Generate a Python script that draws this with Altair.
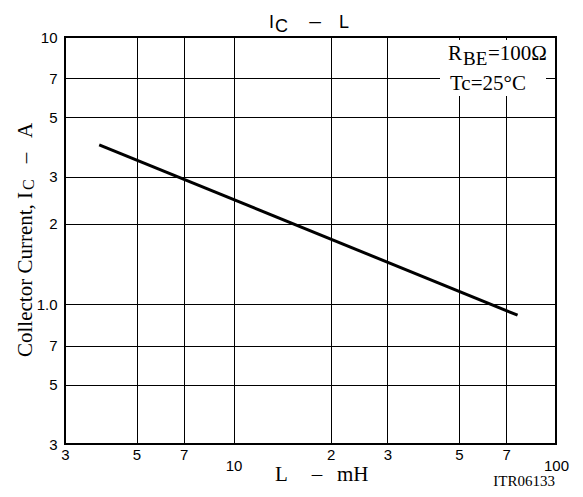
import altair as alt
import pandas as pd

# ---- data ----
L_mH = [3.83, 76.0]
Ic_A = [3.95, 0.91]
x_ticks = [3, 5, 7, 10, 20, 30, 50, 70, 100]
y_ticks = [0.3, 0.5, 0.7, 1, 2, 3, 5, 7, 10]

title_parts = ["I", "C", "\u2013", "L"]
ytitle_parts = ["Collector Current, I", "C", "\u2013", "A"]
xtitle_parts = ["L", "\u2013", "mH"]
note_parts = ["R", "BE", "=100\u03a9", "Tc=25\u00b0C"]
code_label = "ITR06133"

SANS = "Liberation Sans"
SERIF = "Liberation Serif"
W, H = 491, 407

df = pd.DataFrame({"L": L_mH, "Ic": Ic_A})

x_label_expr = (
    "datum.value < 10 ? toString(datum.value) : "
    "(datum.value == 10 || datum.value == 100) ? ['', toString(datum.value)] : "
    "toString(round(datum.value / 10))"
)
y_label_expr = (
    "datum.value == 1 ? '1.0' : "
    "toString(round(datum.value < 1 ? datum.value * 10 : datum.value))"
)

line = alt.Chart(df).mark_line(color="black", strokeWidth=3).encode(
    x=alt.X(
        "L:Q",
        scale=alt.Scale(type="log", domain=[3, 100], nice=False),
        axis=alt.Axis(
            values=x_ticks, labelExpr=x_label_expr, grid=True, gridColor="black",
            gridWidth=1, ticks=False, domain=False, title=None,
            labelFont=SANS, labelFontSize=15, labelColor="black",
            labelPadding=3, labelLineHeight=11, labelFlush=False, labelOverlap=False,
        ),
    ),
    y=alt.Y(
        "Ic:Q",
        scale=alt.Scale(type="log", domain=[0.3, 10], nice=False),
        axis=alt.Axis(
            values=y_ticks, labelExpr=y_label_expr, grid=True, gridColor="black",
            gridWidth=1, ticks=False, domain=False, title=None,
            labelFont=SANS, labelFontSize=15, labelColor="black",
            labelPadding=8, labelFlush=False, labelOverlap=False,
        ),
    ),
)

one = alt.Data(values=[{}])


def txt(text, x, y, size, font, align="left", angle=0):
    kw = dict(text=text, font=font, fontSize=size, color="black", align=align,
              baseline="alphabetic")
    if angle:
        kw["angle"] = angle
    return alt.Chart(one).mark_text(**kw).encode(x=alt.value(x), y=alt.value(y))


white_box = alt.Chart(one).mark_rect(color="white").encode(
    x=alt.value(375), x2=alt.value(481), y=alt.value(3), y2=alt.value(59)
)

layers = [
    line,
    white_box,
    # title
    txt(title_parts[0], 204, -9, 18, SANS),
    txt(title_parts[1], 210, -5, 18, SANS),
    txt(title_parts[2], 250, -9, 21, SANS, align="center"),
    txt(title_parts[3], 274, -9, 18, SANS),
    # y title (rotated)
    txt(ytitle_parts[0], -33, 320, 21, SERIF, angle=270),
    txt(ytitle_parts[1], -31, 153, 16, SERIF, angle=270),
    txt(ytitle_parts[2], -33, 121, 21, SERIF, align="center", angle=270),
    txt(ytitle_parts[3], -33, 101, 21, SERIF, angle=270),
    # x title
    txt(xtitle_parts[0], 210, 444, 21, SERIF),
    txt(xtitle_parts[1], 252, 444, 21, SERIF, align="center"),
    txt(xtitle_parts[2], 272, 444, 21, SERIF),
    # notes
    txt(note_parts[0], 383, 23, 21, SERIF),
    txt(note_parts[1], 398, 28, 19, SERIF),
    txt(note_parts[2], 423, 23, 21, SERIF),
    txt(note_parts[3], 385, 53, 21, SERIF),
    # code
    txt(code_label, 490, 449, 15, SERIF, align="right"),
]

chart = alt.layer(*layers).properties(
    width=W, height=H,
    autosize=alt.AutoSizeParams(type="none"),
    padding={"left": 57, "top": 29, "right": 19, "bottom": 45},
    background="white",
).configure_view(stroke="black", strokeWidth=2)

chart.save("out.html", embed_options={"renderer": "svg", "actions": False})
